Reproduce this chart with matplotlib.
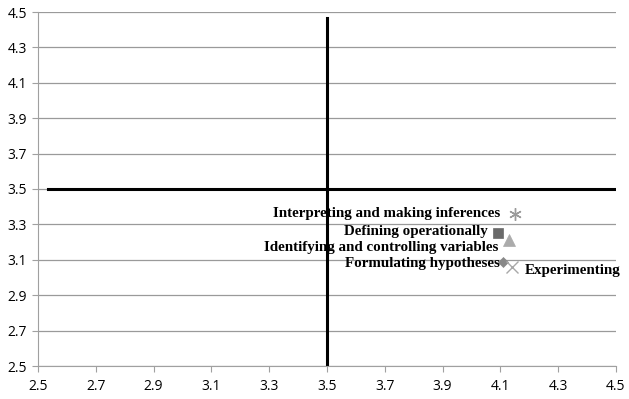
import matplotlib.pyplot as plt
import numpy as np

# skills and their (x, y) means
skills = ['Interpreting and making inferences', 'Defining operationally',
          'Identifying and controlling variables', 'Formulating hypotheses',
          'Experimenting']
x_vals = [4.15, 4.09, 4.13, 4.11, 4.14]
y_vals = [3.36, 3.25, 3.21, 3.09, 3.06]
markers = [(6, 2, 0), 's', '^', 'D', 'x']
colors = ['#9a9a9a', '#6a6a6a', '#ababab', '#888888', '#a8a8a8']
sizes = [9, 7, 8, 5, 9]

ticks = np.round(np.arange(2.5, 4.51, 0.2), 1)

fig = plt.figure(figsize=(6.29, 3.99), dpi=100)
ax = fig.add_axes([38 / 629, 33 / 399, 578 / 629, 354 / 399])

ax.set_xlim(2.5, 4.5)
ax.set_ylim(2.5, 4.5)
ax.set_xticks(ticks)
ax.set_yticks(ticks)
ax.set_xticklabels([f'{t:.1f}' for t in ticks], fontsize=10, family='Open Sans')
ax.set_yticklabels([f'{t:.1f}' for t in ticks], fontsize=10, family='Open Sans')
ax.yaxis.grid(True, color='#9a9a9a', linewidth=0.9)
ax.set_axisbelow(True)
for s in ['top', 'right']:
    ax.spines[s].set_visible(False)
for s in ['left', 'bottom']:
    ax.spines[s].set_color('#a0a0a0')
ax.tick_params(axis='both', colors='#a0a0a0', length=4, labelcolor='black')
ax.tick_params(axis='x', pad=5)
ax.tick_params(axis='y', pad=4)

# quadrant lines
ax.plot([2.535, 4.5], [3.5, 3.5], color='black', linewidth=2.2)
ax.plot([3.5, 3.5], [2.5, 4.465], color='black', linewidth=2.2)

for xv, yv, m, c, ms in zip(x_vals, y_vals, markers, colors, sizes):
    ax.plot(xv, yv, marker=m, color=c, markersize=ms, linestyle='none',
            markeredgewidth=1.0 if m in ('x', (6, 2, 0)) else 0.5)

label_style = dict(fontsize=10.8, fontweight='bold', family='Liberation Serif', va='center')
ax.text(x_vals[0] - 0.05, y_vals[0] + 0.004, skills[0], ha='right', **label_style)
ax.text(x_vals[1] - 0.033, y_vals[1] + 0.012, skills[1], ha='right', **label_style)
ax.text(x_vals[2] - 0.038, y_vals[2] - 0.038, skills[2], ha='right', **label_style)
ax.text(x_vals[3] - 0.011, y_vals[3] - 0.01, skills[3], ha='right', **label_style)
ax.text(x_vals[4] + 0.045, y_vals[4] - 0.023, skills[4], ha='left', **label_style)

fig.savefig('out.png', dpi=100)
